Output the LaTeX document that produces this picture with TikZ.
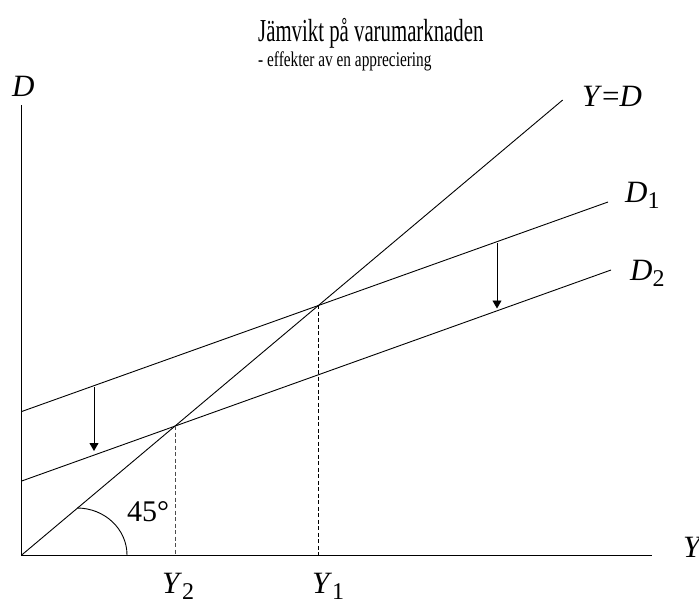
\documentclass[tikz,border=0pt]{standalone}
\usepackage{fontspec}
\setmainfont{Liberation Serif}
\usetikzlibrary{arrows.meta}
\newcommand{\mysub}[1]{\raisebox{-6pt}{\fontsize{24}{24}\selectfont #1}}
\begin{document}
\begin{tikzpicture}[x=1pt,y=-1pt,
  ln/.style={line width=0.9pt},
  dsh/.style={line width=0.8pt, dash pattern=on 4pt off 2.5pt},
  lab/.style={inner sep=0pt, anchor=base west, font=\fontsize{31}{31}\selectfont},
  arr/.style={line width=0.9pt, -{Triangle[length=8pt,width=9pt]}}
]
\useasboundingbox (0,0) rectangle (699,603);
% axes
\coordinate (O) at (21.7,555);
\coordinate (Ytop) at (21.7,105);
\coordinate (Xend) at (652,555);
\draw[ln] (Ytop) -- (O) -- (Xend);
% lines
\coordinate (YDend) at (562.7,100);
\coordinate (D1s) at (21.7,411.5);
\coordinate (D1e) at (608,202);
\coordinate (D2s) at (21.7,481);
\coordinate (D2e) at (611,270);
\draw[ln] (O) -- (YDend);
\draw[ln] (D1s) -- (D1e);
\draw[ln] (D2s) -- (D2e);
% equilibria
\coordinate (E1) at (intersection of O--YDend and D1s--D1e);
\coordinate (E2) at (intersection of O--YDend and D2s--D2e);
\coordinate (F1) at (E1 |- O);
\coordinate (F2) at (E2 |- O);
\draw[dsh] (E1) -- (F1);
\draw[dsh, black!70] (E2) -- (F2);
% shift arrows
\coordinate (a1s) at (94,387);
\coordinate (a1e) at (94,451);
\coordinate (a2s) at (497,243);
\coordinate (a2e) at (497,308.5);
\draw[arr] (a1s) -- (a1e);
\draw[arr] (a2s) -- (a2e);
% 45 degree arc
\coordinate (arcS) at (127,555);
\draw[line width=0.9pt] (arcS) arc[start angle=0, end angle=90, x radius=50, y radius=-47];
\node[inner sep=0pt, anchor=base west, font=\rmfamily\fontsize{30}{30}\selectfont] (deg) at (127,521) {45°};
% labels
\node[lab] (Dlab) at (12,96) {\textit{D}};
\node[lab] (YDlab) at (582,106) {\textit{Y}=\textit{D}};
\node[lab] (D1lab) at (625,202) {\textit{D}\mysub{1}};
\node[lab] (D2lab) at (630,280) {\textit{D}\mysub{2}};
\node[lab] (Ylab) at (683,557) {\textit{Y}};
\node[lab] (Y1lab) at (312,593) {\textit{Y}\mysub{1}};
\node[lab] (Y2lab) at (162,593) {\textit{Y}\mysub{2}};
% title
\node[inner sep=0pt, anchor=base west, font=\fontsize{32}{32}\selectfont] (title) at (258,41) {\scalebox{0.65}[1]{Jämvikt på varumarknaden}};
\node[inner sep=0pt, anchor=base west, font=\fontsize{21}{21}\selectfont] (subtitle) at (258,66) {\scalebox{0.73}[1]{- effekter av en appreciering}};
\end{tikzpicture}
\end{document}
